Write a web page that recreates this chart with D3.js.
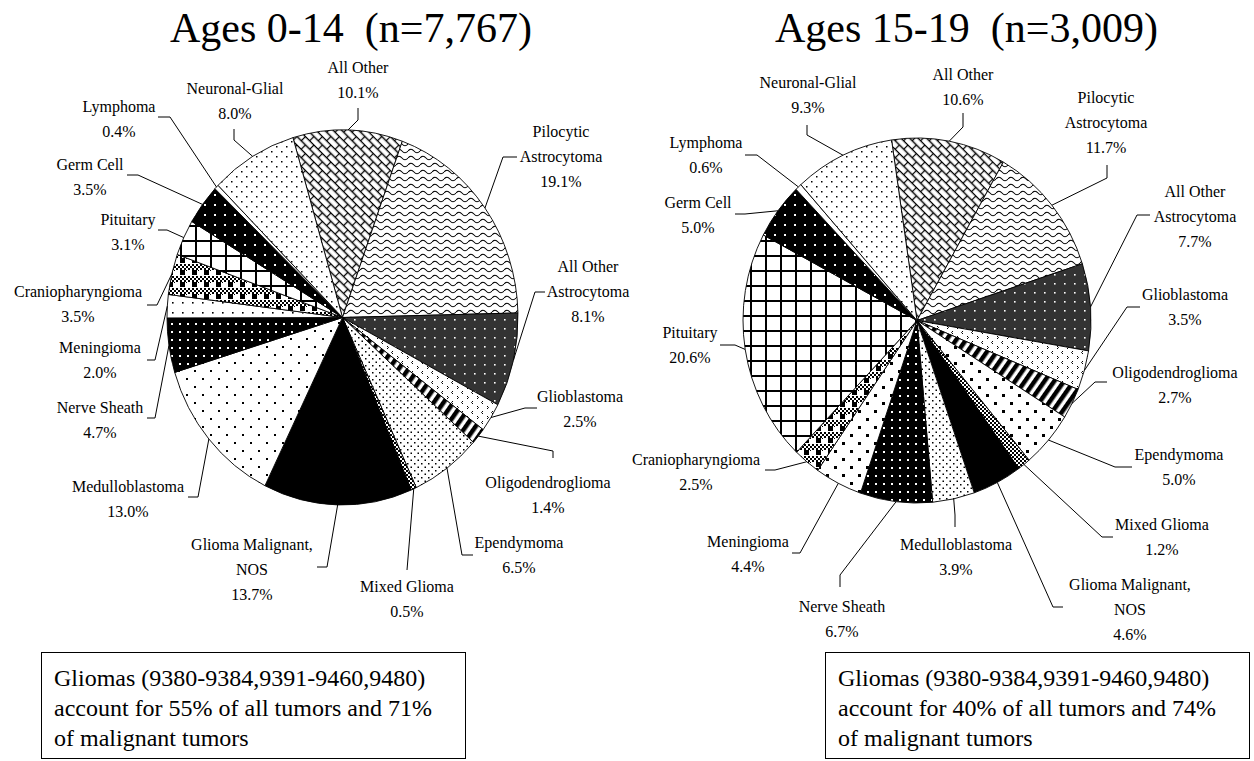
<!DOCTYPE html>
<html>
<head>
<meta charset="utf-8">
<script src="https://cdn.jsdelivr.net/npm/d3@7"></script>
<style>
body { margin: 0; background: #fff; }
svg { display: block; }
text { font-family: "Liberation Serif", "Times New Roman", serif; }
</style>
</head>
<body>
<svg id="chart" width="1254" height="761"></svg>
<script>
// categories, clockwise from the top of each pie
var categories = ["All Other", "Pilocytic Astrocytoma", "All Other Astrocytoma", "Glioblastoma",
    "Oligodendroglioma", "Ependymoma", "Mixed Glioma", "Glioma Malignant, NOS", "Medulloblastoma",
    "Nerve Sheath", "Meningioma", "Craniopharyngioma", "Pituitary", "Germ Cell", "Lymphoma", "Neuronal-Glial"];

// how each category name is broken into lines
var labelLines = [["All Other"], ["Pilocytic", "Astrocytoma"], ["All Other", "Astrocytoma"], ["Glioblastoma"],
    ["Oligodendroglioma"], ["Ependymoma"], ["Mixed Glioma"], ["Glioma Malignant,", "NOS"], ["Medulloblastoma"],
    ["Nerve Sheath"], ["Meningioma"], ["Craniopharyngioma"], ["Pituitary"], ["Germ Cell"], ["Lymphoma"], ["Neuronal-Glial"]];

// percent of tumors
var pctAges0to14 = [10.1, 19.1, 8.1, 2.5, 1.4, 6.5, 0.5, 13.7, 13.0, 4.7, 2.0, 3.5, 3.1, 3.5, 0.4, 8.0];
var pctAges15to19 = [10.6, 11.7, 7.7, 3.5, 2.7, 5.0, 1.2, 4.6, 3.9, 6.7, 4.4, 2.5, 20.6, 5.0, 0.6, 9.3];

var titles = ["Ages 0-14  (n=7,767)", "Ages 15-19  (n=3,009)"];
var notes = [
    ["Gliomas (9380-9384,9391-9460,9480)", "account for 55% of all tumors and 71%", "of malignant tumors"],
    ["Gliomas (9380-9384,9391-9460,9480)", "account for 40% of all tumors and 74%", "of malignant tumors"]
];

// fill pattern ids per slice
var fills0to14 = ["brick", "wave", "darkdots", "chev", "stripes", "densedots", "check", "black", "sparsedots",
    "blackdots", "medots", "plaid", "grid", "germ", "white", "neuro"];
var fills15to19 = ["brick", "wave", "darkdots", "chev", "stripes", "squares", "check", "black", "densedots",
    "blackdots", "squares", "plaid", "grid", "germ", "white", "neuro"];

// label layout: [textX, firstBaseline, kneeX, kneeY, endX, endY]
var layout0to14 = [
    [358, 73, 358, 120, 358, 108],
    [561, 137, 503, 157, 517, 157],
    [588, 272, 535, 292, 545, 292],
    [580, 402, 525, 408, 537, 408],
    [548, 488, 553, 451, 553, 458],
    [519, 548, 462, 555, 473, 555],
    [407, 592, 407, 570, 407, 570],
    [252, 550, 327, 567, 317, 567],
    [128, 492, 198, 497, 188, 497],
    [100, 413, 155, 418, 147, 418],
    [100, 353, 155, 360, 147, 360],
    [78, 297, 157, 305, 147, 305],
    [128, 225, 167, 230, 158, 230],
    [90, 170, 138, 175, 127, 175],
    [119, 112, 170, 117, 158, 117],
    [235, 94, 234, 140, 234, 129]
];
var layout15to19 = [
    [963, 80, 963, 127, 963, 113],
    [1106, 103, 1107, 178, 1107, 165],
    [1195, 197, 1137, 215, 1150, 215],
    [1185, 300, 1127, 307, 1140, 307],
    [1175, 378, 1095, 382, 1107, 382],
    [1179, 460, 1115, 467, 1132, 467],
    [1162, 530, 1102, 537, 1113, 537],
    [1130, 590, 1053, 607, 1063, 607],
    [956, 550, 955, 515, 955, 527],
    [842, 612, 840, 575, 840, 587],
    [748, 547, 800, 553, 792, 553],
    [696, 465, 775, 470, 765, 470],
    [690, 338, 735, 345, 720, 345],
    [698, 208, 745, 214, 735, 214],
    [706, 148, 757, 155, 745, 155],
    [808, 88, 807, 135, 807, 125]
];

var pies = [
    {values: pctAges0to14, fills: fills0to14, layout: layout0to14, cx: 342.5, cy: 317.5, rx: 175.5, ry: 187.5, start: -16.4,
     titleX: 170, box: [41, 652, 424, 106]},
    {values: pctAges15to19, fills: fills15to19, layout: layout15to19, cx: 917, cy: 320.5, rx: 174, ry: 182.5, start: -8.4,
     titleX: 775, box: [825, 652, 424, 106]}
];

var svg = d3.select("#chart");
var defs = svg.append("defs");

//pattern helper
function pat(id, w, h, bg, draw, transform) {
    var p = defs.append("pattern").attr("id", id)
        .attr("patternUnits", "userSpaceOnUse")
        .attr("width", w).attr("height", h);
    if (transform) p.attr("patternTransform", transform);
    p.append("rect").attr("width", w).attr("height", h).attr("fill", bg);
    if (draw) draw(p);
}
function dot(p, x, y, s, c) {
    p.append("rect").attr("x", x).attr("y", y).attr("width", s).attr("height", s).attr("fill", c);
}

pat("brick", 12, 12, "#fff", function(p) {
    p.append("path").attr("d", "M0,0.5H12M0,6.5H12M0.5,0.5V6.5M6.5,6.5V12")
        .attr("stroke", "#000").attr("stroke-width", 1.3).attr("fill", "none");
}, "rotate(45)");
pat("wave", 12, 7, "#fff", function(p) {
    p.append("path").attr("d", "M0,4 Q3,0.5 6,4 T12,4")
        .attr("stroke", "#000").attr("stroke-width", 1.1).attr("fill", "none");
});
pat("darkdots", 10, 9, "#333", function(p) { dot(p, 4, 4, 1.6, "#fff"); });
pat("chev", 10, 10, "#fff", function(p) {
    p.append("path").attr("d", "M3,1L1.5,2.5L3,4M7,6L8.5,7.5L7,9")
        .attr("stroke", "#000").attr("stroke-width", 1).attr("fill", "none");
});
pat("stripes", 8, 8, "#fff", function(p) { p.append("rect").attr("width", 4.5).attr("height", 8).attr("fill", "#000"); }, "rotate(35)");
pat("densedots", 7, 7, "#fff", function(p) { dot(p, 1, 1, 1.5, "#000"); dot(p, 4.5, 4.5, 1.5, "#000"); });
pat("check", 4, 4, "#fff", function(p) { dot(p, 0, 0, 2, "#000"); dot(p, 2, 2, 2, "#000"); });
pat("black", 4, 4, "#000");
pat("white", 4, 4, "#fff");
pat("sparsedots", 16, 16, "#fff", function(p) { dot(p, 2, 2, 2, "#000"); dot(p, 10, 10, 2, "#000"); });
pat("blackdots", 8, 8, "#000", function(p) { dot(p, 3, 3, 2, "#fff"); });
pat("medots", 10, 10, "#fff", function(p) { dot(p, 2, 2, 1.6, "#000"); });
pat("squares", 16, 16, "#fff", function(p) { dot(p, 2, 2, 3, "#000"); dot(p, 10, 10, 3, "#000"); });
pat("plaid", 12, 12, "#fff", function(p) {
    for (var i = 0; i < 12; i += 2) {
        for (var j = 0; j < 6; j += 2) {
            if (((i + j) / 2) % 2 === 0) dot(p, i, j, 2, "#000");
        }
    }
    dot(p, 0, 6, 5, "#000");
    dot(p, 6, 6, 1, "#000");
});
pat("grid", 15, 15, "#fff", function(p) {
    p.append("path").attr("d", "M0,1H15M1,0V15").attr("stroke", "#000").attr("stroke-width", 2);
});
pat("germ", 10, 10, "#000", function(p) { dot(p, 4, 4, 2, "#fff"); });
pat("neuro", 10, 10, "#fff", function(p) { dot(p, 1, 1, 1.5, "#000"); dot(p, 6, 6, 1.5, "#000"); });

//ellipse slice path from a d3.pie arc datum
function slicePath(p, d) {
    var x0 = p.cx + p.rx * Math.sin(d.startAngle), y0 = p.cy - p.ry * Math.cos(d.startAngle);
    var x1 = p.cx + p.rx * Math.sin(d.endAngle), y1 = p.cy - p.ry * Math.cos(d.endAngle);
    var large = d.endAngle - d.startAngle > Math.PI ? 1 : 0;
    return "M" + p.cx + "," + p.cy + "L" + x0 + "," + y0 +
        "A" + p.rx + "," + p.ry + " 0 " + large + " 1 " + x1 + "," + y1 + "Z";
}

pies.forEach(function(p, k) {
    var a0 = p.start * Math.PI / 180;
    var pie = d3.pie().sort(null).value(function(d) { return d; })
        .startAngle(a0).endAngle(a0 + 2 * Math.PI);
    var arcs = pie(p.values);

    var g = svg.append("g");

    g.selectAll("path.slice")
        .data(arcs)
        .enter()
        .append("path")
        .attr("class", "slice")
        .attr("d", function(d) { return slicePath(p, d); })
        .attr("fill", function(d, i) { return "url(#" + p.fills[i] + ")"; })
        .attr("stroke", "#000")
        .attr("stroke-width", 0.9)
        .attr("stroke-linejoin", "round");

    //leader lines
    g.selectAll("polyline")
        .data(arcs)
        .enter()
        .append("polyline")
        .attr("points", function(d, i) {
            var m = (d.startAngle + d.endAngle) / 2;
            var L = p.layout[i];
            var ex = p.cx + p.rx * Math.sin(m), ey = p.cy - p.ry * Math.cos(m);
            return [ex, ey, L[2], L[3], L[4], L[5]].join(",");
        })
        .attr("fill", "none")
        .attr("stroke", "#000")
        .attr("stroke-width", 1);

    //labels
    var labels = g.selectAll("text.lbl")
        .data(arcs)
        .enter()
        .append("text")
        .attr("class", "lbl")
        .attr("text-anchor", "middle")
        .attr("font-family", "Liberation Serif")
        .attr("font-size", 16)
        .attr("x", function(d, i) { return p.layout[i][0]; })
        .attr("y", function(d, i) { return p.layout[i][1]; });
    labels.each(function(d, i) {
        var lines = labelLines[i].concat([d.data.toFixed(1) + "%"]);
        var t = d3.select(this);
        lines.forEach(function(s, j) {
            t.append("tspan").attr("x", p.layout[i][0]).attr("dy", j === 0 ? 0 : 25).text(s);
        });
    });

    //title
    svg.append("text")
        .attr("x", p.titleX)
        .attr("y", 42)
        .attr("font-family", "Liberation Serif")
        .attr("font-size", 42)
        .style("white-space", "pre")
        .text(titles[k]);

    //note box
    var b = p.box;
    svg.append("rect")
        .attr("x", b[0] + 0.5).attr("y", b[1] + 0.5)
        .attr("width", b[2]).attr("height", b[3])
        .attr("fill", "#fff").attr("stroke", "#000").attr("stroke-width", 1);
    var nt = svg.append("text").attr("font-family", "Liberation Serif").attr("font-size", 24);
    notes[k].forEach(function(s, j) {
        nt.append("tspan").attr("x", b[0] + 13).attr("y", b[1] + 34 + j * 30).text(s);
    });
});
</script>
</body>
</html>
